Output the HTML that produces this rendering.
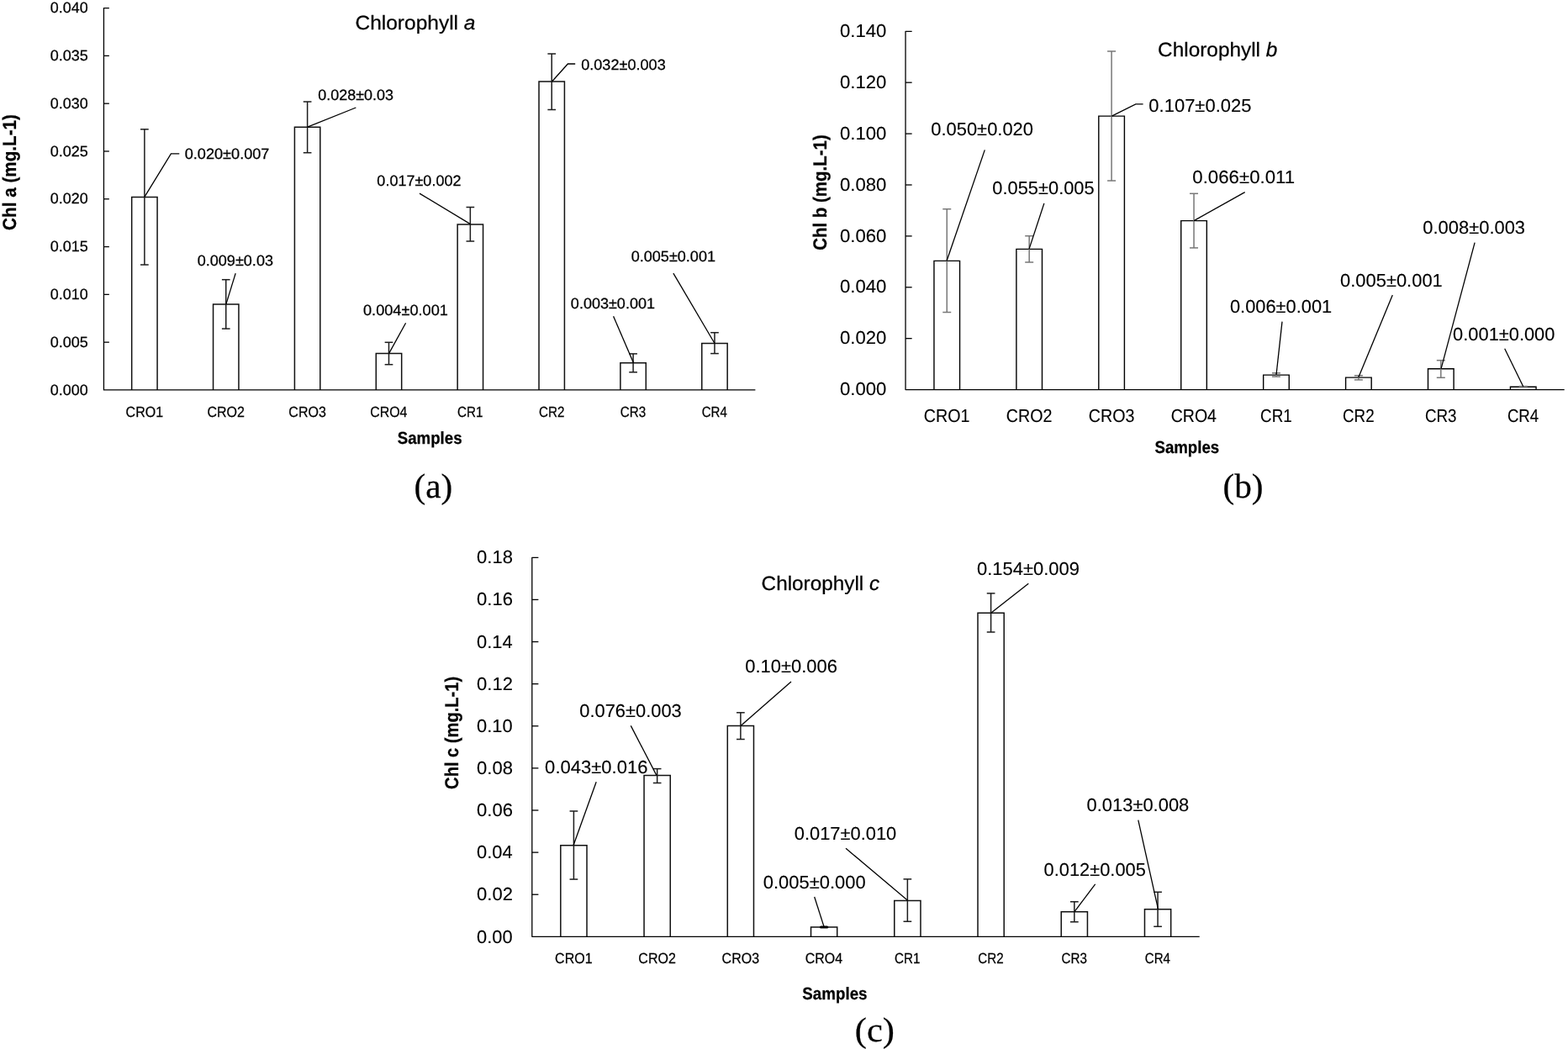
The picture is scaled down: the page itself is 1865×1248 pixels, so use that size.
<!DOCTYPE html>
<html lang="en">
<head>
<meta charset="utf-8">
<title>Chlorophyll a, b and c concentrations</title>
<style>
html,body{margin:0;padding:0;background:#fff;}
body{width:1865px;height:1248px;overflow:hidden;}
svg{display:block;}
text{text-rendering:geometricPrecision;stroke:#000;paint-order:stroke fill;}
</style>
</head>
<body>
<svg width="1865" height="1248" viewBox="0 0 1865 1248">
<rect x="0" y="0" width="1865" height="1248" fill="#ffffff"/>
<g id="chart-a">
<g class="marks">
<path d="M156.68 463.95V234.45H187.08V463.95" fill="#fff" stroke="#111" stroke-width="1.5" stroke-linejoin="miter"/>
<path d="M253.55 463.95V361.9H283.95V463.95" fill="#fff" stroke="#111" stroke-width="1.5" stroke-linejoin="miter"/>
<path d="M350.42 463.95V151.2H380.82V463.95" fill="#fff" stroke="#111" stroke-width="1.5" stroke-linejoin="miter"/>
<path d="M447.29 463.95V420.4H477.69V463.95" fill="#fff" stroke="#111" stroke-width="1.5" stroke-linejoin="miter"/>
<path d="M544.16 463.95V267.1H574.56V463.95" fill="#fff" stroke="#111" stroke-width="1.5" stroke-linejoin="miter"/>
<path d="M641.03 463.95V97H671.43V463.95" fill="#fff" stroke="#111" stroke-width="1.5" stroke-linejoin="miter"/>
<path d="M737.9 463.95V431.7H768.3V463.95" fill="#fff" stroke="#111" stroke-width="1.5" stroke-linejoin="miter"/>
<path d="M834.77 463.95V408.5H865.17V463.95" fill="#fff" stroke="#111" stroke-width="1.5" stroke-linejoin="miter"/>
<line x1="171.88" y1="153.8" x2="171.88" y2="315" stroke="#1c1c1c" stroke-width="1.5" stroke-linecap="butt"/>
<line x1="167.03" y1="153.8" x2="176.73" y2="153.8" stroke="#1c1c1c" stroke-width="1.5" stroke-linecap="butt"/>
<line x1="167.03" y1="315" x2="176.73" y2="315" stroke="#1c1c1c" stroke-width="1.5" stroke-linecap="butt"/>
<line x1="268.75" y1="332.7" x2="268.75" y2="391.1" stroke="#1c1c1c" stroke-width="1.5" stroke-linecap="butt"/>
<line x1="263.9" y1="332.7" x2="273.6" y2="332.7" stroke="#1c1c1c" stroke-width="1.5" stroke-linecap="butt"/>
<line x1="263.9" y1="391.1" x2="273.6" y2="391.1" stroke="#1c1c1c" stroke-width="1.5" stroke-linecap="butt"/>
<line x1="365.62" y1="121" x2="365.62" y2="181.7" stroke="#1c1c1c" stroke-width="1.5" stroke-linecap="butt"/>
<line x1="360.77" y1="121" x2="370.47" y2="121" stroke="#1c1c1c" stroke-width="1.5" stroke-linecap="butt"/>
<line x1="360.77" y1="181.7" x2="370.47" y2="181.7" stroke="#1c1c1c" stroke-width="1.5" stroke-linecap="butt"/>
<line x1="462.49" y1="407.3" x2="462.49" y2="433.7" stroke="#1c1c1c" stroke-width="1.5" stroke-linecap="butt"/>
<line x1="457.64" y1="407.3" x2="467.34" y2="407.3" stroke="#1c1c1c" stroke-width="1.5" stroke-linecap="butt"/>
<line x1="457.64" y1="433.7" x2="467.34" y2="433.7" stroke="#1c1c1c" stroke-width="1.5" stroke-linecap="butt"/>
<line x1="559.36" y1="246.5" x2="559.36" y2="287" stroke="#1c1c1c" stroke-width="1.5" stroke-linecap="butt"/>
<line x1="554.51" y1="246.5" x2="564.21" y2="246.5" stroke="#1c1c1c" stroke-width="1.5" stroke-linecap="butt"/>
<line x1="554.51" y1="287" x2="564.21" y2="287" stroke="#1c1c1c" stroke-width="1.5" stroke-linecap="butt"/>
<line x1="656.23" y1="64" x2="656.23" y2="130.5" stroke="#1c1c1c" stroke-width="1.5" stroke-linecap="butt"/>
<line x1="651.38" y1="64" x2="661.08" y2="64" stroke="#1c1c1c" stroke-width="1.5" stroke-linecap="butt"/>
<line x1="651.38" y1="130.5" x2="661.08" y2="130.5" stroke="#1c1c1c" stroke-width="1.5" stroke-linecap="butt"/>
<line x1="753.1" y1="420.9" x2="753.1" y2="442.8" stroke="#1c1c1c" stroke-width="1.5" stroke-linecap="butt"/>
<line x1="748.25" y1="420.9" x2="757.95" y2="420.9" stroke="#1c1c1c" stroke-width="1.5" stroke-linecap="butt"/>
<line x1="748.25" y1="442.8" x2="757.95" y2="442.8" stroke="#1c1c1c" stroke-width="1.5" stroke-linecap="butt"/>
<line x1="849.97" y1="395.7" x2="849.97" y2="420.6" stroke="#1c1c1c" stroke-width="1.5" stroke-linecap="butt"/>
<line x1="845.12" y1="395.7" x2="854.82" y2="395.7" stroke="#1c1c1c" stroke-width="1.5" stroke-linecap="butt"/>
<line x1="845.12" y1="420.6" x2="854.82" y2="420.6" stroke="#1c1c1c" stroke-width="1.5" stroke-linecap="butt"/>
<polyline points="129.85,9.6 123.45,9.6 123.45,463.95 898.4,463.95" fill="none" stroke="#000" stroke-width="1.3" stroke-linejoin="round" stroke-linecap="butt"/>
<line x1="123.45" y1="66.39" x2="129.85" y2="66.39" stroke="#000" stroke-width="1.3" stroke-linecap="butt"/>
<line x1="123.45" y1="123.19" x2="129.85" y2="123.19" stroke="#000" stroke-width="1.3" stroke-linecap="butt"/>
<line x1="123.45" y1="179.98" x2="129.85" y2="179.98" stroke="#000" stroke-width="1.3" stroke-linecap="butt"/>
<line x1="123.45" y1="236.77" x2="129.85" y2="236.77" stroke="#000" stroke-width="1.3" stroke-linecap="butt"/>
<line x1="123.45" y1="293.57" x2="129.85" y2="293.57" stroke="#000" stroke-width="1.3" stroke-linecap="butt"/>
<line x1="123.45" y1="350.36" x2="129.85" y2="350.36" stroke="#000" stroke-width="1.3" stroke-linecap="butt"/>
<line x1="123.45" y1="407.16" x2="129.85" y2="407.16" stroke="#000" stroke-width="1.3" stroke-linecap="butt"/>
<polyline points="172,234.2 203.4,182.8 213.3,182.8" fill="none" stroke="#000" stroke-width="1.3" stroke-linejoin="miter" stroke-linecap="butt"/>
<polyline points="268.9,361.9 280.2,325.1" fill="none" stroke="#000" stroke-width="1.3" stroke-linejoin="miter" stroke-linecap="butt"/>
<polyline points="365.7,151.2 423.4,128" fill="none" stroke="#000" stroke-width="1.3" stroke-linejoin="miter" stroke-linecap="butt"/>
<polyline points="462.7,420.4 482.6,384.3" fill="none" stroke="#000" stroke-width="1.3" stroke-linejoin="miter" stroke-linecap="butt"/>
<polyline points="559.5,266.6 499,230.1" fill="none" stroke="#000" stroke-width="1.3" stroke-linejoin="miter" stroke-linecap="butt"/>
<polyline points="656.5,97 675.4,76 684.2,76" fill="none" stroke="#000" stroke-width="1.3" stroke-linejoin="miter" stroke-linecap="butt"/>
<polyline points="753.5,431.7 729.6,376.3" fill="none" stroke="#000" stroke-width="1.3" stroke-linejoin="miter" stroke-linecap="butt"/>
<polyline points="850,408.5 800.9,325.1" fill="none" stroke="#000" stroke-width="1.3" stroke-linejoin="miter" stroke-linecap="butt"/>
</g>
<g class="labels">
<text x="59.79" y="15.04" font-family="'Liberation Sans', Arial, Helvetica, sans-serif" font-size="17.8" fill="#000" stroke-width="0.25" textLength="44.81" lengthAdjust="spacingAndGlyphs" xml:space="preserve">0.040</text>
<text x="59.79" y="71.87" font-family="'Liberation Sans', Arial, Helvetica, sans-serif" font-size="17.8" fill="#000" stroke-width="0.25" textLength="45.09" lengthAdjust="spacingAndGlyphs" xml:space="preserve">0.035</text>
<text x="59.79" y="128.69" font-family="'Liberation Sans', Arial, Helvetica, sans-serif" font-size="17.8" fill="#000" stroke-width="0.25" textLength="44.81" lengthAdjust="spacingAndGlyphs" xml:space="preserve">0.030</text>
<text x="59.79" y="185.52" font-family="'Liberation Sans', Arial, Helvetica, sans-serif" font-size="17.8" fill="#000" stroke-width="0.25" textLength="45.09" lengthAdjust="spacingAndGlyphs" xml:space="preserve">0.025</text>
<text x="59.79" y="242.34" font-family="'Liberation Sans', Arial, Helvetica, sans-serif" font-size="17.8" fill="#000" stroke-width="0.25" textLength="44.81" lengthAdjust="spacingAndGlyphs" xml:space="preserve">0.020</text>
<text x="59.79" y="299.17" font-family="'Liberation Sans', Arial, Helvetica, sans-serif" font-size="17.8" fill="#000" stroke-width="0.25" textLength="45.09" lengthAdjust="spacingAndGlyphs" xml:space="preserve">0.015</text>
<text x="59.79" y="355.99" font-family="'Liberation Sans', Arial, Helvetica, sans-serif" font-size="17.8" fill="#000" stroke-width="0.25" textLength="44.81" lengthAdjust="spacingAndGlyphs" xml:space="preserve">0.010</text>
<text x="59.79" y="412.82" font-family="'Liberation Sans', Arial, Helvetica, sans-serif" font-size="17.8" fill="#000" stroke-width="0.25" textLength="45.09" lengthAdjust="spacingAndGlyphs" xml:space="preserve">0.005</text>
<text x="59.79" y="469.64" font-family="'Liberation Sans', Arial, Helvetica, sans-serif" font-size="17.8" fill="#000" stroke-width="0.25" textLength="44.81" lengthAdjust="spacingAndGlyphs" xml:space="preserve">0.000</text>
<text x="219.68" y="189.34" font-family="'Liberation Sans', Arial, Helvetica, sans-serif" font-size="17.8" fill="#000" stroke-width="0.25" textLength="100.8" lengthAdjust="spacingAndGlyphs" xml:space="preserve">0.020±0.007</text>
<text x="234.69" y="316.14" font-family="'Liberation Sans', Arial, Helvetica, sans-serif" font-size="17.8" fill="#000" stroke-width="0.25" textLength="90.3" lengthAdjust="spacingAndGlyphs" xml:space="preserve">0.009±0.03</text>
<text x="378.19" y="119.04" font-family="'Liberation Sans', Arial, Helvetica, sans-serif" font-size="17.8" fill="#000" stroke-width="0.25" textLength="89.79" lengthAdjust="spacingAndGlyphs" xml:space="preserve">0.028±0.03</text>
<text x="431.98" y="375.14" font-family="'Liberation Sans', Arial, Helvetica, sans-serif" font-size="17.8" fill="#000" stroke-width="0.25" textLength="101.01" lengthAdjust="spacingAndGlyphs" xml:space="preserve">0.004±0.001</text>
<text x="448.39" y="221.44" font-family="'Liberation Sans', Arial, Helvetica, sans-serif" font-size="17.8" fill="#000" stroke-width="0.25" textLength="100.09" lengthAdjust="spacingAndGlyphs" xml:space="preserve">0.017±0.002</text>
<text x="691.18" y="83.24" font-family="'Liberation Sans', Arial, Helvetica, sans-serif" font-size="17.8" fill="#000" stroke-width="0.25" textLength="100.6" lengthAdjust="spacingAndGlyphs" xml:space="preserve">0.032±0.003</text>
<text x="678.89" y="366.74" font-family="'Liberation Sans', Arial, Helvetica, sans-serif" font-size="17.8" fill="#000" stroke-width="0.25" textLength="100.09" lengthAdjust="spacingAndGlyphs" xml:space="preserve">0.003±0.001</text>
<text x="750.69" y="310.54" font-family="'Liberation Sans', Arial, Helvetica, sans-serif" font-size="17.8" fill="#000" stroke-width="0.25" textLength="100.3" lengthAdjust="spacingAndGlyphs" xml:space="preserve">0.005±0.001</text>
<text x="149.58" y="495.57" font-family="'Liberation Sans', Arial, Helvetica, sans-serif" font-size="17.6" fill="#000" stroke-width="0.25" textLength="44.5" lengthAdjust="spacingAndGlyphs" xml:space="preserve">CRO1</text>
<text x="246.45" y="495.57" font-family="'Liberation Sans', Arial, Helvetica, sans-serif" font-size="17.6" fill="#000" stroke-width="0.25" textLength="44.5" lengthAdjust="spacingAndGlyphs" xml:space="preserve">CRO2</text>
<text x="343.32" y="495.57" font-family="'Liberation Sans', Arial, Helvetica, sans-serif" font-size="17.6" fill="#000" stroke-width="0.25" textLength="44.5" lengthAdjust="spacingAndGlyphs" xml:space="preserve">CRO3</text>
<text x="440.19" y="495.57" font-family="'Liberation Sans', Arial, Helvetica, sans-serif" font-size="17.6" fill="#000" stroke-width="0.25" textLength="44.24" lengthAdjust="spacingAndGlyphs" xml:space="preserve">CRO4</text>
<text x="544.1" y="495.57" font-family="'Liberation Sans', Arial, Helvetica, sans-serif" font-size="17.6" fill="#000" stroke-width="0.25" textLength="30.43" lengthAdjust="spacingAndGlyphs" xml:space="preserve">CR1</text>
<text x="640.97" y="495.57" font-family="'Liberation Sans', Arial, Helvetica, sans-serif" font-size="17.6" fill="#000" stroke-width="0.25" textLength="30.43" lengthAdjust="spacingAndGlyphs" xml:space="preserve">CR2</text>
<text x="737.83" y="495.57" font-family="'Liberation Sans', Arial, Helvetica, sans-serif" font-size="17.6" fill="#000" stroke-width="0.25" textLength="30.43" lengthAdjust="spacingAndGlyphs" xml:space="preserve">CR3</text>
<text x="834.71" y="495.57" font-family="'Liberation Sans', Arial, Helvetica, sans-serif" font-size="17.6" fill="#000" stroke-width="0.25" textLength="30.18" lengthAdjust="spacingAndGlyphs" xml:space="preserve">CR4</text>
<text x="472.76" y="528.47" font-family="'Liberation Sans', Arial, Helvetica, sans-serif" font-size="20.5" fill="#000" stroke-width="0.25" textLength="76.85" lengthAdjust="spacingAndGlyphs" font-weight="bold" xml:space="preserve">Samples</text>
<text transform="translate(18.76 273.5) rotate(-90)" x="-0.4" y="0" font-family="'Liberation Sans', Arial, Helvetica, sans-serif" font-size="22.5" fill="#000" stroke-width="0.25" textLength="137.89" lengthAdjust="spacingAndGlyphs" font-weight="bold" xml:space="preserve">Chl a (mg.L-1)</text>
<text x="422.5" y="34.51" font-family="'Liberation Sans', Arial, Helvetica, sans-serif" font-size="23.5" fill="#000" stroke-width="0.25" textLength="142.96" lengthAdjust="spacingAndGlyphs" xml:space="preserve">Chlorophyll <tspan font-style="italic">a</tspan></text>
<text x="492.46" y="592.04" font-family="'Liberation Serif', 'Times New Roman', serif" font-size="41" fill="#000" stroke-width="0.25" textLength="45.78" lengthAdjust="spacingAndGlyphs" xml:space="preserve">(a)</text>
</g>
</g>
<g id="chart-b">
<g class="marks">
<path d="M1110.96 463.55V310.4H1141.56V463.55" fill="#fff" stroke="#000" stroke-width="1.4" stroke-linejoin="miter"/>
<path d="M1208.89 463.55V296.4H1239.49V463.55" fill="#fff" stroke="#000" stroke-width="1.4" stroke-linejoin="miter"/>
<path d="M1306.81 463.55V138.1H1337.41V463.55" fill="#fff" stroke="#000" stroke-width="1.4" stroke-linejoin="miter"/>
<path d="M1404.74 463.55V262.6H1435.34V463.55" fill="#fff" stroke="#000" stroke-width="1.4" stroke-linejoin="miter"/>
<path d="M1502.66 463.55V446.1H1533.26V463.55" fill="#fff" stroke="#000" stroke-width="1.4" stroke-linejoin="miter"/>
<path d="M1600.59 463.55V449.1H1631.19V463.55" fill="#fff" stroke="#000" stroke-width="1.4" stroke-linejoin="miter"/>
<path d="M1698.51 463.55V438.8H1729.11V463.55" fill="#fff" stroke="#000" stroke-width="1.4" stroke-linejoin="miter"/>
<path d="M1796.44 463.55V460.2H1827.04V463.55" fill="#fff" stroke="#000" stroke-width="1.4" stroke-linejoin="miter"/>
<line x1="1126.26" y1="248.7" x2="1126.26" y2="371.5" stroke="#777" stroke-width="1.5" stroke-linecap="butt"/>
<line x1="1121.26" y1="248.7" x2="1131.26" y2="248.7" stroke="#777" stroke-width="1.5" stroke-linecap="butt"/>
<line x1="1121.26" y1="371.5" x2="1131.26" y2="371.5" stroke="#777" stroke-width="1.5" stroke-linecap="butt"/>
<line x1="1224.19" y1="280.7" x2="1224.19" y2="312" stroke="#777" stroke-width="1.5" stroke-linecap="butt"/>
<line x1="1219.19" y1="280.7" x2="1229.19" y2="280.7" stroke="#777" stroke-width="1.5" stroke-linecap="butt"/>
<line x1="1219.19" y1="312" x2="1229.19" y2="312" stroke="#777" stroke-width="1.5" stroke-linecap="butt"/>
<line x1="1322.11" y1="61" x2="1322.11" y2="215" stroke="#777" stroke-width="1.5" stroke-linecap="butt"/>
<line x1="1317.11" y1="61" x2="1327.11" y2="61" stroke="#777" stroke-width="1.5" stroke-linecap="butt"/>
<line x1="1317.11" y1="215" x2="1327.11" y2="215" stroke="#777" stroke-width="1.5" stroke-linecap="butt"/>
<line x1="1420.04" y1="230.3" x2="1420.04" y2="294.9" stroke="#777" stroke-width="1.5" stroke-linecap="butt"/>
<line x1="1415.04" y1="230.3" x2="1425.04" y2="230.3" stroke="#777" stroke-width="1.5" stroke-linecap="butt"/>
<line x1="1415.04" y1="294.9" x2="1425.04" y2="294.9" stroke="#777" stroke-width="1.5" stroke-linecap="butt"/>
<line x1="1517.96" y1="443.8" x2="1517.96" y2="448.1" stroke="#777" stroke-width="1.5" stroke-linecap="butt"/>
<line x1="1512.96" y1="443.8" x2="1522.96" y2="443.8" stroke="#777" stroke-width="1.5" stroke-linecap="butt"/>
<line x1="1512.96" y1="448.1" x2="1522.96" y2="448.1" stroke="#777" stroke-width="1.5" stroke-linecap="butt"/>
<line x1="1615.89" y1="446.8" x2="1615.89" y2="451.9" stroke="#777" stroke-width="1.5" stroke-linecap="butt"/>
<line x1="1610.89" y1="446.8" x2="1620.89" y2="446.8" stroke="#777" stroke-width="1.5" stroke-linecap="butt"/>
<line x1="1610.89" y1="451.9" x2="1620.89" y2="451.9" stroke="#777" stroke-width="1.5" stroke-linecap="butt"/>
<line x1="1713.81" y1="428.7" x2="1713.81" y2="449.3" stroke="#777" stroke-width="1.5" stroke-linecap="butt"/>
<line x1="1708.81" y1="428.7" x2="1718.81" y2="428.7" stroke="#777" stroke-width="1.5" stroke-linecap="butt"/>
<line x1="1708.81" y1="449.3" x2="1718.81" y2="449.3" stroke="#777" stroke-width="1.5" stroke-linecap="butt"/>
<line x1="1811.74" y1="459.6" x2="1811.74" y2="460.8" stroke="#777" stroke-width="1.5" stroke-linecap="butt"/>
<line x1="1806.74" y1="459.6" x2="1816.74" y2="459.6" stroke="#777" stroke-width="1.5" stroke-linecap="butt"/>
<line x1="1806.74" y1="460.8" x2="1816.74" y2="460.8" stroke="#777" stroke-width="1.5" stroke-linecap="butt"/>
<polyline points="1084.65,37.3 1077.05,37.3 1077.05,463.55 1860.7,463.55" fill="none" stroke="#000" stroke-width="1.3" stroke-linejoin="round" stroke-linecap="butt"/>
<line x1="1077.05" y1="98.19" x2="1084.65" y2="98.19" stroke="#000" stroke-width="1.3" stroke-linecap="butt"/>
<line x1="1077.05" y1="159.09" x2="1084.65" y2="159.09" stroke="#000" stroke-width="1.3" stroke-linecap="butt"/>
<line x1="1077.05" y1="219.98" x2="1084.65" y2="219.98" stroke="#000" stroke-width="1.3" stroke-linecap="butt"/>
<line x1="1077.05" y1="280.87" x2="1084.65" y2="280.87" stroke="#000" stroke-width="1.3" stroke-linecap="butt"/>
<line x1="1077.05" y1="341.76" x2="1084.65" y2="341.76" stroke="#000" stroke-width="1.3" stroke-linecap="butt"/>
<line x1="1077.05" y1="402.66" x2="1084.65" y2="402.66" stroke="#000" stroke-width="1.3" stroke-linecap="butt"/>
<polyline points="1126,310.5 1171.3,178.4" fill="none" stroke="#000" stroke-width="1.3" stroke-linejoin="miter" stroke-linecap="butt"/>
<polyline points="1224,296.4 1241.9,241.9" fill="none" stroke="#000" stroke-width="1.3" stroke-linejoin="miter" stroke-linecap="butt"/>
<polyline points="1322.3,138.1 1350.8,123.9 1359.6,123.9" fill="none" stroke="#000" stroke-width="1.3" stroke-linejoin="miter" stroke-linecap="butt"/>
<polyline points="1420,262.6 1480.7,228.6" fill="none" stroke="#000" stroke-width="1.3" stroke-linejoin="miter" stroke-linecap="butt"/>
<polyline points="1518,446 1525,382.6" fill="none" stroke="#000" stroke-width="1.3" stroke-linejoin="miter" stroke-linecap="butt"/>
<polyline points="1615.8,449 1656.3,351.1" fill="none" stroke="#000" stroke-width="1.3" stroke-linejoin="miter" stroke-linecap="butt"/>
<polyline points="1714,438.8 1754.1,288.6" fill="none" stroke="#000" stroke-width="1.3" stroke-linejoin="miter" stroke-linecap="butt"/>
<polyline points="1811.8,460 1789.7,414.8" fill="none" stroke="#000" stroke-width="1.3" stroke-linejoin="miter" stroke-linecap="butt"/>
</g>
<g class="labels">
<text x="998.93" y="44.24" font-family="'Liberation Sans', Arial, Helvetica, sans-serif" font-size="21.7" fill="#000" stroke-width="0.12" textLength="55.4" lengthAdjust="spacingAndGlyphs" xml:space="preserve">0.140</text>
<text x="998.93" y="105.09" font-family="'Liberation Sans', Arial, Helvetica, sans-serif" font-size="21.7" fill="#000" stroke-width="0.12" textLength="55.4" lengthAdjust="spacingAndGlyphs" xml:space="preserve">0.120</text>
<text x="998.93" y="165.94" font-family="'Liberation Sans', Arial, Helvetica, sans-serif" font-size="21.7" fill="#000" stroke-width="0.12" textLength="55.4" lengthAdjust="spacingAndGlyphs" xml:space="preserve">0.100</text>
<text x="998.93" y="226.79" font-family="'Liberation Sans', Arial, Helvetica, sans-serif" font-size="21.7" fill="#000" stroke-width="0.12" textLength="55.4" lengthAdjust="spacingAndGlyphs" xml:space="preserve">0.080</text>
<text x="998.93" y="287.64" font-family="'Liberation Sans', Arial, Helvetica, sans-serif" font-size="21.7" fill="#000" stroke-width="0.12" textLength="55.4" lengthAdjust="spacingAndGlyphs" xml:space="preserve">0.060</text>
<text x="998.93" y="348.49" font-family="'Liberation Sans', Arial, Helvetica, sans-serif" font-size="21.7" fill="#000" stroke-width="0.12" textLength="55.4" lengthAdjust="spacingAndGlyphs" xml:space="preserve">0.040</text>
<text x="998.93" y="409.34" font-family="'Liberation Sans', Arial, Helvetica, sans-serif" font-size="21.7" fill="#000" stroke-width="0.12" textLength="55.4" lengthAdjust="spacingAndGlyphs" xml:space="preserve">0.020</text>
<text x="998.93" y="470.19" font-family="'Liberation Sans', Arial, Helvetica, sans-serif" font-size="21.7" fill="#000" stroke-width="0.12" textLength="55.4" lengthAdjust="spacingAndGlyphs" xml:space="preserve">0.000</text>
<text x="1107.23" y="161.49" font-family="'Liberation Sans', Arial, Helvetica, sans-serif" font-size="21.7" fill="#000" stroke-width="0.12" textLength="121.79" lengthAdjust="spacingAndGlyphs" xml:space="preserve">0.050±0.020</text>
<text x="1180.34" y="231.19" font-family="'Liberation Sans', Arial, Helvetica, sans-serif" font-size="21.7" fill="#000" stroke-width="0.12" textLength="121.33" lengthAdjust="spacingAndGlyphs" xml:space="preserve">0.055±0.005</text>
<text x="1366.33" y="132.59" font-family="'Liberation Sans', Arial, Helvetica, sans-serif" font-size="21.7" fill="#000" stroke-width="0.12" textLength="122.14" lengthAdjust="spacingAndGlyphs" xml:space="preserve">0.107±0.025</text>
<text x="1418.33" y="218.19" font-family="'Liberation Sans', Arial, Helvetica, sans-serif" font-size="21.7" fill="#000" stroke-width="0.12" textLength="121.86" lengthAdjust="spacingAndGlyphs" xml:space="preserve">0.066±0.011</text>
<text x="1462.94" y="371.89" font-family="'Liberation Sans', Arial, Helvetica, sans-serif" font-size="21.7" fill="#000" stroke-width="0.12" textLength="121.33" lengthAdjust="spacingAndGlyphs" xml:space="preserve">0.006±0.001</text>
<text x="1594.04" y="340.69" font-family="'Liberation Sans', Arial, Helvetica, sans-serif" font-size="21.7" fill="#000" stroke-width="0.12" textLength="121.73" lengthAdjust="spacingAndGlyphs" xml:space="preserve">0.005±0.001</text>
<text x="1692.34" y="277.79" font-family="'Liberation Sans', Arial, Helvetica, sans-serif" font-size="21.7" fill="#000" stroke-width="0.12" textLength="121.73" lengthAdjust="spacingAndGlyphs" xml:space="preserve">0.008±0.003</text>
<text x="1728.14" y="404.64" font-family="'Liberation Sans', Arial, Helvetica, sans-serif" font-size="21.7" fill="#000" stroke-width="0.12" textLength="121.29" lengthAdjust="spacingAndGlyphs" xml:space="preserve">0.001±0.000</text>
<text x="1098.86" y="502.22" font-family="'Liberation Sans', Arial, Helvetica, sans-serif" font-size="21.8" fill="#000" stroke-width="0.12" textLength="54.68" lengthAdjust="spacingAndGlyphs" xml:space="preserve">CRO1</text>
<text x="1196.78" y="502.22" font-family="'Liberation Sans', Arial, Helvetica, sans-serif" font-size="21.8" fill="#000" stroke-width="0.12" textLength="54.68" lengthAdjust="spacingAndGlyphs" xml:space="preserve">CRO2</text>
<text x="1294.71" y="502.22" font-family="'Liberation Sans', Arial, Helvetica, sans-serif" font-size="21.8" fill="#000" stroke-width="0.12" textLength="54.68" lengthAdjust="spacingAndGlyphs" xml:space="preserve">CRO3</text>
<text x="1392.64" y="502.22" font-family="'Liberation Sans', Arial, Helvetica, sans-serif" font-size="21.8" fill="#000" stroke-width="0.12" textLength="54.36" lengthAdjust="spacingAndGlyphs" xml:space="preserve">CRO4</text>
<text x="1499.1" y="502.22" font-family="'Liberation Sans', Arial, Helvetica, sans-serif" font-size="21.8" fill="#000" stroke-width="0.12" textLength="37.6" lengthAdjust="spacingAndGlyphs" xml:space="preserve">CR1</text>
<text x="1597.03" y="502.22" font-family="'Liberation Sans', Arial, Helvetica, sans-serif" font-size="21.8" fill="#000" stroke-width="0.12" textLength="37.6" lengthAdjust="spacingAndGlyphs" xml:space="preserve">CR2</text>
<text x="1694.95" y="502.22" font-family="'Liberation Sans', Arial, Helvetica, sans-serif" font-size="21.8" fill="#000" stroke-width="0.12" textLength="37.6" lengthAdjust="spacingAndGlyphs" xml:space="preserve">CR3</text>
<text x="1792.88" y="502.22" font-family="'Liberation Sans', Arial, Helvetica, sans-serif" font-size="21.8" fill="#000" stroke-width="0.12" textLength="37.3" lengthAdjust="spacingAndGlyphs" xml:space="preserve">CR4</text>
<text x="1373.46" y="539.47" font-family="'Liberation Sans', Arial, Helvetica, sans-serif" font-size="20.5" fill="#000" stroke-width="0.25" textLength="76.75" lengthAdjust="spacingAndGlyphs" font-weight="bold" xml:space="preserve">Samples</text>
<text transform="translate(982.76 297.4) rotate(-90)" x="-0.39" y="0" font-family="'Liberation Sans', Arial, Helvetica, sans-serif" font-size="22.5" fill="#000" stroke-width="0.25" textLength="137.48" lengthAdjust="spacingAndGlyphs" font-weight="bold" xml:space="preserve">Chl b (mg.L-1)</text>
<text x="1377.11" y="66.71" font-family="'Liberation Sans', Arial, Helvetica, sans-serif" font-size="23.5" fill="#000" stroke-width="0.25" textLength="142.25" lengthAdjust="spacingAndGlyphs" xml:space="preserve">Chlorophyll <tspan font-style="italic">b</tspan></text>
<text x="1454.46" y="592.04" font-family="'Liberation Serif', 'Times New Roman', serif" font-size="41" fill="#000" stroke-width="0.25" textLength="48.08" lengthAdjust="spacingAndGlyphs" xml:space="preserve">(b)</text>
</g>
</g>
<g id="chart-c">
<g class="marks">
<path d="M666.82 1114.35V1005.7H698.02V1114.35" fill="#fff" stroke="#111" stroke-width="1.5" stroke-linejoin="miter"/>
<path d="M766.06 1114.35V922.6H797.26V1114.35" fill="#fff" stroke="#111" stroke-width="1.5" stroke-linejoin="miter"/>
<path d="M865.29 1114.35V863.4H896.49V1114.35" fill="#fff" stroke="#111" stroke-width="1.5" stroke-linejoin="miter"/>
<path d="M964.53 1114.35V1102.95H995.73V1114.35" fill="#fff" stroke="#111" stroke-width="1.5" stroke-linejoin="miter"/>
<path d="M1063.77 1114.35V1071.4H1094.97V1114.35" fill="#fff" stroke="#111" stroke-width="1.5" stroke-linejoin="miter"/>
<path d="M1163.01 1114.35V729.3H1194.21V1114.35" fill="#fff" stroke="#111" stroke-width="1.5" stroke-linejoin="miter"/>
<path d="M1262.24 1114.35V1084.7H1293.44V1114.35" fill="#fff" stroke="#111" stroke-width="1.5" stroke-linejoin="miter"/>
<path d="M1361.48 1114.35V1081.7H1392.68V1114.35" fill="#fff" stroke="#111" stroke-width="1.5" stroke-linejoin="miter"/>
<line x1="682.42" y1="965" x2="682.42" y2="1046.1" stroke="#1c1c1c" stroke-width="1.5" stroke-linecap="butt"/>
<line x1="677.57" y1="965" x2="687.27" y2="965" stroke="#1c1c1c" stroke-width="1.5" stroke-linecap="butt"/>
<line x1="677.57" y1="1046.1" x2="687.27" y2="1046.1" stroke="#1c1c1c" stroke-width="1.5" stroke-linecap="butt"/>
<line x1="781.66" y1="914.6" x2="781.66" y2="931.5" stroke="#1c1c1c" stroke-width="1.5" stroke-linecap="butt"/>
<line x1="776.81" y1="914.6" x2="786.51" y2="914.6" stroke="#1c1c1c" stroke-width="1.5" stroke-linecap="butt"/>
<line x1="776.81" y1="931.5" x2="786.51" y2="931.5" stroke="#1c1c1c" stroke-width="1.5" stroke-linecap="butt"/>
<line x1="880.89" y1="847.8" x2="880.89" y2="879.5" stroke="#1c1c1c" stroke-width="1.5" stroke-linecap="butt"/>
<line x1="876.04" y1="847.8" x2="885.74" y2="847.8" stroke="#1c1c1c" stroke-width="1.5" stroke-linecap="butt"/>
<line x1="876.04" y1="879.5" x2="885.74" y2="879.5" stroke="#1c1c1c" stroke-width="1.5" stroke-linecap="butt"/>
<line x1="976.48" y1="1103.05" x2="983.78" y2="1103.05" stroke="#000" stroke-width="3.1" stroke-linecap="round"/>
<line x1="1079.37" y1="1045.9" x2="1079.37" y2="1096.3" stroke="#1c1c1c" stroke-width="1.5" stroke-linecap="butt"/>
<line x1="1074.52" y1="1045.9" x2="1084.22" y2="1045.9" stroke="#1c1c1c" stroke-width="1.5" stroke-linecap="butt"/>
<line x1="1074.52" y1="1096.3" x2="1084.22" y2="1096.3" stroke="#1c1c1c" stroke-width="1.5" stroke-linecap="butt"/>
<line x1="1178.61" y1="705.9" x2="1178.61" y2="752" stroke="#1c1c1c" stroke-width="1.5" stroke-linecap="butt"/>
<line x1="1173.76" y1="705.9" x2="1183.46" y2="705.9" stroke="#1c1c1c" stroke-width="1.5" stroke-linecap="butt"/>
<line x1="1173.76" y1="752" x2="1183.46" y2="752" stroke="#1c1c1c" stroke-width="1.5" stroke-linecap="butt"/>
<line x1="1277.84" y1="1072.8" x2="1277.84" y2="1096.8" stroke="#1c1c1c" stroke-width="1.5" stroke-linecap="butt"/>
<line x1="1272.99" y1="1072.8" x2="1282.69" y2="1072.8" stroke="#1c1c1c" stroke-width="1.5" stroke-linecap="butt"/>
<line x1="1272.99" y1="1096.8" x2="1282.69" y2="1096.8" stroke="#1c1c1c" stroke-width="1.5" stroke-linecap="butt"/>
<line x1="1377.08" y1="1061.3" x2="1377.08" y2="1102.3" stroke="#1c1c1c" stroke-width="1.5" stroke-linecap="butt"/>
<line x1="1372.23" y1="1061.3" x2="1381.93" y2="1061.3" stroke="#1c1c1c" stroke-width="1.5" stroke-linecap="butt"/>
<line x1="1372.23" y1="1102.3" x2="1381.93" y2="1102.3" stroke="#1c1c1c" stroke-width="1.5" stroke-linecap="butt"/>
<polyline points="640.4,663.3 632.8,663.3 632.8,1114.35 1426.7,1114.35" fill="none" stroke="#000" stroke-width="1.3" stroke-linejoin="round" stroke-linecap="butt"/>
<line x1="632.8" y1="713.42" x2="640.4" y2="713.42" stroke="#000" stroke-width="1.3" stroke-linecap="butt"/>
<line x1="632.8" y1="763.53" x2="640.4" y2="763.53" stroke="#000" stroke-width="1.3" stroke-linecap="butt"/>
<line x1="632.8" y1="813.65" x2="640.4" y2="813.65" stroke="#000" stroke-width="1.3" stroke-linecap="butt"/>
<line x1="632.8" y1="863.77" x2="640.4" y2="863.77" stroke="#000" stroke-width="1.3" stroke-linecap="butt"/>
<line x1="632.8" y1="913.88" x2="640.4" y2="913.88" stroke="#000" stroke-width="1.3" stroke-linecap="butt"/>
<line x1="632.8" y1="964" x2="640.4" y2="964" stroke="#000" stroke-width="1.3" stroke-linecap="butt"/>
<line x1="632.8" y1="1014.12" x2="640.4" y2="1014.12" stroke="#000" stroke-width="1.3" stroke-linecap="butt"/>
<line x1="632.8" y1="1064.23" x2="640.4" y2="1064.23" stroke="#000" stroke-width="1.3" stroke-linecap="butt"/>
<polyline points="682.2,1005.3 709.2,930.2" fill="none" stroke="#000" stroke-width="1.3" stroke-linejoin="miter" stroke-linecap="butt"/>
<polyline points="781,922.6 750.3,863.4" fill="none" stroke="#000" stroke-width="1.3" stroke-linejoin="miter" stroke-linecap="butt"/>
<polyline points="881,863.4 941,811" fill="none" stroke="#000" stroke-width="1.3" stroke-linejoin="miter" stroke-linecap="butt"/>
<polyline points="980.1,1102.6 968.7,1067" fill="none" stroke="#000" stroke-width="1.3" stroke-linejoin="miter" stroke-linecap="butt"/>
<polyline points="1079.6,1071.3 1006,1009.3" fill="none" stroke="#000" stroke-width="1.3" stroke-linejoin="miter" stroke-linecap="butt"/>
<polyline points="1178.7,729.3 1223.3,694.3" fill="none" stroke="#000" stroke-width="1.3" stroke-linejoin="miter" stroke-linecap="butt"/>
<polyline points="1278,1084.7 1302.7,1051.9" fill="none" stroke="#000" stroke-width="1.3" stroke-linejoin="miter" stroke-linecap="butt"/>
<polyline points="1377.5,1081.7 1353.8,975.6" fill="none" stroke="#000" stroke-width="1.3" stroke-linejoin="miter" stroke-linecap="butt"/>
</g>
<g class="labels">
<text x="567.03" y="670.29" font-family="'Liberation Sans', Arial, Helvetica, sans-serif" font-size="21.7" fill="#000" stroke-width="0.12" textLength="42.89" lengthAdjust="spacingAndGlyphs" xml:space="preserve">0.18</text>
<text x="567.03" y="720.43" font-family="'Liberation Sans', Arial, Helvetica, sans-serif" font-size="21.7" fill="#000" stroke-width="0.12" textLength="42.89" lengthAdjust="spacingAndGlyphs" xml:space="preserve">0.16</text>
<text x="567.04" y="770.56" font-family="'Liberation Sans', Arial, Helvetica, sans-serif" font-size="21.7" fill="#000" stroke-width="0.12" textLength="42.54" lengthAdjust="spacingAndGlyphs" xml:space="preserve">0.14</text>
<text x="567.03" y="820.7" font-family="'Liberation Sans', Arial, Helvetica, sans-serif" font-size="21.7" fill="#000" stroke-width="0.12" textLength="42.89" lengthAdjust="spacingAndGlyphs" xml:space="preserve">0.12</text>
<text x="567.04" y="870.84" font-family="'Liberation Sans', Arial, Helvetica, sans-serif" font-size="21.7" fill="#000" stroke-width="0.12" textLength="42.54" lengthAdjust="spacingAndGlyphs" xml:space="preserve">0.10</text>
<text x="567.03" y="920.98" font-family="'Liberation Sans', Arial, Helvetica, sans-serif" font-size="21.7" fill="#000" stroke-width="0.12" textLength="42.89" lengthAdjust="spacingAndGlyphs" xml:space="preserve">0.08</text>
<text x="567.03" y="971.12" font-family="'Liberation Sans', Arial, Helvetica, sans-serif" font-size="21.7" fill="#000" stroke-width="0.12" textLength="42.89" lengthAdjust="spacingAndGlyphs" xml:space="preserve">0.06</text>
<text x="567.04" y="1021.26" font-family="'Liberation Sans', Arial, Helvetica, sans-serif" font-size="21.7" fill="#000" stroke-width="0.12" textLength="42.54" lengthAdjust="spacingAndGlyphs" xml:space="preserve">0.04</text>
<text x="567.03" y="1071.4" font-family="'Liberation Sans', Arial, Helvetica, sans-serif" font-size="21.7" fill="#000" stroke-width="0.12" textLength="42.89" lengthAdjust="spacingAndGlyphs" xml:space="preserve">0.02</text>
<text x="567.04" y="1121.54" font-family="'Liberation Sans', Arial, Helvetica, sans-serif" font-size="21.7" fill="#000" stroke-width="0.12" textLength="42.54" lengthAdjust="spacingAndGlyphs" xml:space="preserve">0.00</text>
<text x="648.13" y="920.29" font-family="'Liberation Sans', Arial, Helvetica, sans-serif" font-size="21.7" fill="#000" stroke-width="0.12" textLength="122.34" lengthAdjust="spacingAndGlyphs" xml:space="preserve">0.043±0.016</text>
<text x="689.24" y="852.79" font-family="'Liberation Sans', Arial, Helvetica, sans-serif" font-size="21.7" fill="#000" stroke-width="0.12" textLength="121.53" lengthAdjust="spacingAndGlyphs" xml:space="preserve">0.076±0.003</text>
<text x="886.23" y="800.19" font-family="'Liberation Sans', Arial, Helvetica, sans-serif" font-size="21.7" fill="#000" stroke-width="0.12" textLength="109.74" lengthAdjust="spacingAndGlyphs" xml:space="preserve">0.10±0.006</text>
<text x="907.73" y="1057.09" font-family="'Liberation Sans', Arial, Helvetica, sans-serif" font-size="21.7" fill="#000" stroke-width="0.12" textLength="121.89" lengthAdjust="spacingAndGlyphs" xml:space="preserve">0.005±0.000</text>
<text x="944.74" y="998.89" font-family="'Liberation Sans', Arial, Helvetica, sans-serif" font-size="21.7" fill="#000" stroke-width="0.12" textLength="121.49" lengthAdjust="spacingAndGlyphs" xml:space="preserve">0.017±0.010</text>
<text x="1161.93" y="684.19" font-family="'Liberation Sans', Arial, Helvetica, sans-serif" font-size="21.7" fill="#000" stroke-width="0.12" textLength="122.14" lengthAdjust="spacingAndGlyphs" xml:space="preserve">0.154±0.009</text>
<text x="1241.64" y="1041.99" font-family="'Liberation Sans', Arial, Helvetica, sans-serif" font-size="21.7" fill="#000" stroke-width="0.12" textLength="121.23" lengthAdjust="spacingAndGlyphs" xml:space="preserve">0.012±0.005</text>
<text x="1292.54" y="965.19" font-family="'Liberation Sans', Arial, Helvetica, sans-serif" font-size="21.7" fill="#000" stroke-width="0.12" textLength="121.73" lengthAdjust="spacingAndGlyphs" xml:space="preserve">0.013±0.008</text>
<text x="660.12" y="1145.87" font-family="'Liberation Sans', Arial, Helvetica, sans-serif" font-size="17.6" fill="#000" stroke-width="0.25" textLength="44.5" lengthAdjust="spacingAndGlyphs" xml:space="preserve">CRO1</text>
<text x="759.36" y="1145.87" font-family="'Liberation Sans', Arial, Helvetica, sans-serif" font-size="17.6" fill="#000" stroke-width="0.25" textLength="44.5" lengthAdjust="spacingAndGlyphs" xml:space="preserve">CRO2</text>
<text x="858.59" y="1145.87" font-family="'Liberation Sans', Arial, Helvetica, sans-serif" font-size="17.6" fill="#000" stroke-width="0.25" textLength="44.5" lengthAdjust="spacingAndGlyphs" xml:space="preserve">CRO3</text>
<text x="957.83" y="1145.87" font-family="'Liberation Sans', Arial, Helvetica, sans-serif" font-size="17.6" fill="#000" stroke-width="0.25" textLength="44.24" lengthAdjust="spacingAndGlyphs" xml:space="preserve">CRO4</text>
<text x="1064.11" y="1145.87" font-family="'Liberation Sans', Arial, Helvetica, sans-serif" font-size="17.6" fill="#000" stroke-width="0.25" textLength="30.43" lengthAdjust="spacingAndGlyphs" xml:space="preserve">CR1</text>
<text x="1163.34" y="1145.87" font-family="'Liberation Sans', Arial, Helvetica, sans-serif" font-size="17.6" fill="#000" stroke-width="0.25" textLength="30.43" lengthAdjust="spacingAndGlyphs" xml:space="preserve">CR2</text>
<text x="1262.58" y="1145.87" font-family="'Liberation Sans', Arial, Helvetica, sans-serif" font-size="17.6" fill="#000" stroke-width="0.25" textLength="30.43" lengthAdjust="spacingAndGlyphs" xml:space="preserve">CR3</text>
<text x="1361.82" y="1145.87" font-family="'Liberation Sans', Arial, Helvetica, sans-serif" font-size="17.6" fill="#000" stroke-width="0.25" textLength="30.18" lengthAdjust="spacingAndGlyphs" xml:space="preserve">CR4</text>
<text x="954.36" y="1189.47" font-family="'Liberation Sans', Arial, Helvetica, sans-serif" font-size="20.5" fill="#000" stroke-width="0.25" textLength="77.15" lengthAdjust="spacingAndGlyphs" font-weight="bold" xml:space="preserve">Samples</text>
<text transform="translate(544.76 938.5) rotate(-90)" x="-0.38" y="0" font-family="'Liberation Sans', Arial, Helvetica, sans-serif" font-size="22.5" fill="#000" stroke-width="0.25" textLength="133.95" lengthAdjust="spacingAndGlyphs" font-weight="bold" xml:space="preserve">Chl c (mg.L-1)</text>
<text x="905.61" y="701.51" font-family="'Liberation Sans', Arial, Helvetica, sans-serif" font-size="23.5" fill="#000" stroke-width="0.25" textLength="140.54" lengthAdjust="spacingAndGlyphs" xml:space="preserve">Chlorophyll <tspan font-style="italic">c</tspan></text>
<text x="1016.82" y="1238.64" font-family="'Liberation Serif', 'Times New Roman', serif" font-size="41" fill="#000" stroke-width="0.25" textLength="47.16" lengthAdjust="spacingAndGlyphs" xml:space="preserve">(c)</text>
</g>
</g>
</svg>
</body>
</html>
